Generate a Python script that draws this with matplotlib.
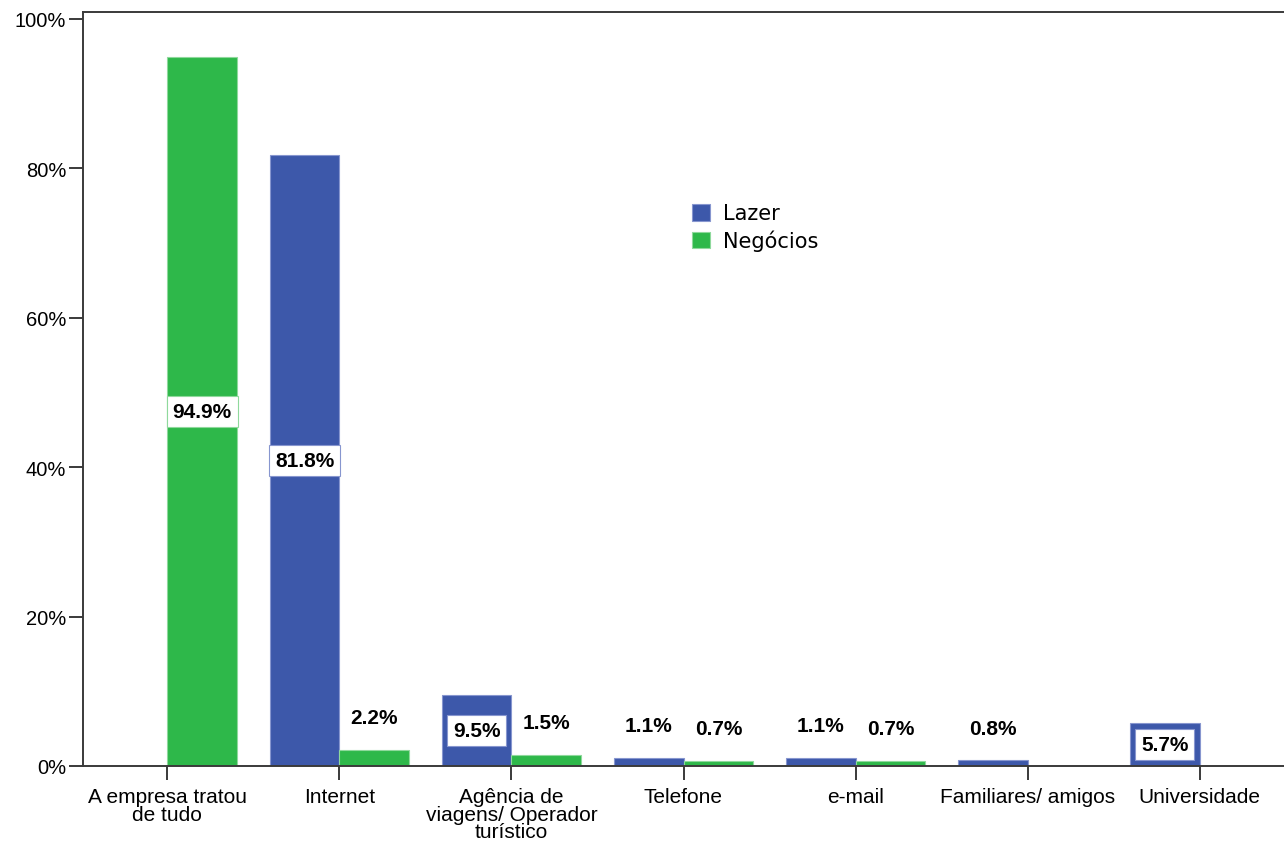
import matplotlib
matplotlib.use('Agg')
import matplotlib.pyplot as plt
import numpy as np

plt.rcParams['font.family'] = ['Liberation Sans', 'DejaVu Sans']

# ---------------------------
# 資料
# ---------------------------
categorias = ['A empresa tratou\nde tudo', 'Internet', 'Agência de\nviagens/ Operador\nturístico',
              'Telefone', 'e-mail', 'Familiares/ amigos', 'Universidade']
lazer = [np.nan, 81.8, 9.5, 1.1, 1.1, 0.8, 5.7]
negocios = [94.9, 2.2, 1.5, 0.7, 0.7, np.nan, np.nan]
y_ticks = [0, 20, 40, 60, 80, 100]

cor_lazer = '#3d58aa'
cor_negocios = '#2eb84a'
borda_lazer = '#8796cf'
borda_negocios = '#8fd99c'

fig = plt.figure(figsize=(12.84, 8.45), dpi=100)
ax = fig.add_axes([83/1284, 1 - 767/845, 1 - 83/1284, (767 - 12.5)/845])

x = np.arange(len(categorias))
w = 0.405

b1 = ax.bar(x, lazer, width=-w, align='edge', color=cor_lazer, edgecolor=borda_lazer, linewidth=0.8, label='Lazer')
b2 = ax.bar(x, negocios, width=w, align='edge', color=cor_negocios, edgecolor=borda_negocios, linewidth=0.8, label='Negócios')

# rótulos dos valores
def rotular(xs, vals, borda):
    for xi, v in zip(xs, vals):
        if np.isnan(v):
            continue
        txt = f'{v:.1f}%'
        if v >= 5:
            ax.text(xi, v / 2, txt, ha='center', va='center', fontsize=15, fontweight='bold',
                    bbox=dict(boxstyle='square,pad=0.28', facecolor='white', edgecolor=borda, linewidth=0.8))
        else:
            ax.annotate(txt, (xi, v), xytext=(0, 23), textcoords='offset points',
                        ha='center', va='center', fontsize=15, fontweight='bold')

rotular(x - w / 2, lazer, borda_lazer)
rotular(x + w / 2, negocios, borda_negocios)

ax.set_xlim(-0.49, len(categorias) - 0.51)
ax.set_ylim(0, 101)
ax.set_yticks(y_ticks)
ax.set_yticklabels([f'{t}%' for t in y_ticks], fontsize=14.5)
ax.set_xticks(x)
ax.set_xticklabels(categorias, fontsize=15, linespacing=0.92)

for s in ['left', 'top', 'bottom']:
    ax.spines[s].set_color('#3a3a3a')
    ax.spines[s].set_linewidth(1.4)
ax.spines['right'].set_visible(False)
ax.tick_params(axis='y', length=10, width=1.4, color='#3a3a3a', pad=2)
ax.tick_params(axis='x', length=10, width=1.4, color='#3a3a3a', pad=5)

leg = ax.legend(loc='upper left', bbox_to_anchor=(682/1284, 1 - 194/845), bbox_transform=fig.transFigure,
                frameon=False, prop={'family': 'DejaVu Sans', 'size': 15},
                handlelength=0.85, handleheight=0.85, handletextpad=0.6, labelspacing=0.3, borderpad=0)

fig.savefig('out.png', dpi=100)
